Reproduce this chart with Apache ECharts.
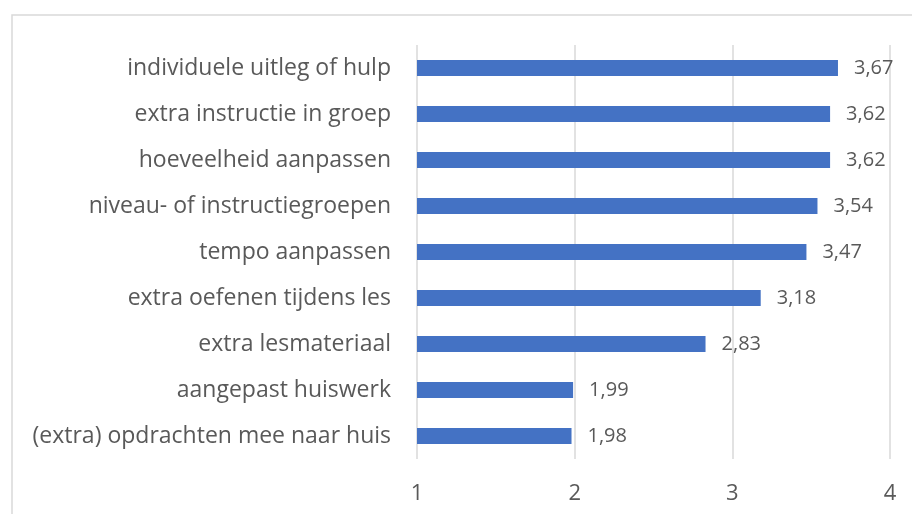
<!DOCTYPE html>
<html>
<head>
<meta charset="utf-8">
<script src="https://cdn.jsdelivr.net/npm/echarts@6/dist/echarts.min.js"></script>
<style>
  html, body { margin: 0; padding: 0; background: #fff; }
  #chart { width: 912px; height: 514px; }
</style>
</head>
<body>
<div id="chart"></div>
<script>
// categories from bottom to top (as ECharts draws category y axis)
const categories = [
  '(extra) opdrachten mee naar huis',
  'aangepast huiswerk',
  'extra lesmateriaal',
  'extra oefenen tijdens les',
  'tempo aanpassen',
  'niveau- of instructiegroepen',
  'hoeveelheid aanpassen',
  'extra instructie in groep',
  'individuele uitleg of hulp'
]
const scores = [1.98, 1.99, 2.83, 3.18, 3.47, 3.54, 3.62, 3.62, 3.67]
const ticks = [1, 2, 3, 4]

const font = '"Open Sans", sans-serif'
const chart = echarts.init(document.getElementById('chart'))

chart.setOption({
  animation: false,
  textStyle: { fontFamily: font },
  graphic: [{
    type: 'rect',
    shape: { x: 12, y: 15, width: 1000, height: 1000 },
    style: { fill: 'none', stroke: '#d9d9d9', lineWidth: 1.5 },
    silent: true
  }],
  grid: { left: 417, right: 22, top: 45, bottom: 55 },
  xAxis: {
    type: 'value',
    min: ticks[0],
    max: ticks[ticks.length - 1],
    interval: 1,
    axisLine: { show: false },
    axisTick: { show: false },
    splitLine: { lineStyle: { color: '#d9d9d9', width: 1.5 } },
    axisLabel: { color: '#595959', fontSize: 22, margin: 24, fontFamily: font }
  },
  yAxis: {
    type: 'category',
    data: categories,
    axisLine: { show: false },
    axisTick: { show: false },
    axisLabel: { color: '#595959', fontSize: 23, margin: 26, fontFamily: font }
  },
  series: [{
    type: 'bar',
    data: scores,
    barWidth: 16,
    itemStyle: { color: '#4472c4' },
    label: {
      show: true,
      position: 'right',
      distance: 16,
      color: '#595959',
      fontSize: 20,
      fontFamily: font,
      formatter: p => p.value.toFixed(2).replace('.', ',')
    }
  }]
})
</script>
</body>
</html>
